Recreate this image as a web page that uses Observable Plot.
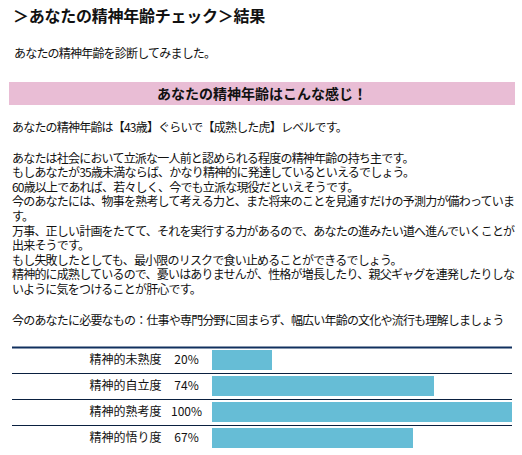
<!DOCTYPE html>
<html lang="ja">
<head>
<meta charset="utf-8">
<script src="https://cdn.jsdelivr.net/npm/d3@7"></script>
<script src="https://cdn.jsdelivr.net/npm/@observablehq/plot@0.6"></script>
<style>
  body { margin: 0; width: 522px; background: #fff; color: #111; font-family: "Noto Sans CJK JP", sans-serif; }
  .title { height: 30px; line-height: 30px; padding-left: 13px; font-size: 16px; font-weight: bold; letter-spacing: -0.25px; }
  .txt { font-size: 12px; letter-spacing: -0.8px; white-space: nowrap; padding-left: 12px; }
  .sub { margin-top: 14.5px; line-height: 15px; padding-left: 14px; }
  .band { margin: 22.5px 7px 0 9px; height: 23px; line-height: 23px; background: #e9bdd5; text-align: center; font-size: 14px; font-weight: bold; }
  .line1 { margin-top: 14.7px; line-height: 14.6px; }
  .para { margin-top: 16.4px; line-height: 14.6px; }
  .need { margin-top: 16px; line-height: 14.6px; }
</style>
</head>
<body>
<div class="title">＞あなたの精神年齢チェック＞結果</div>
<div class="txt sub">あなたの精神年齢を診断してみました。</div>
<div class="band">あなたの精神年齢はこんな感じ！</div>
<div class="txt line1" id="result"></div>
<div class="txt para" id="para"></div>
<div class="txt need" id="need"></div>
<div id="chart"></div>
<script>
// 結果テキスト
const resultLine = "あなたの精神年齢は【43歳】ぐらいで【成熟した虎】レベルです。"
const commentLines = [
  "あなたは社会において立派な一人前と認められる程度の精神年齢の持ち主です。",
  "もしあなたが35歳未満ならば、かなり精神的に発達しているといえるでしょう。",
  "60歳以上であれば、若々しく、今でも立派な現役だといえそうです。",
  "今のあなたには、物事を熟考して考える力と、また将来のことを見通すだけの予測力が備わっていま",
  "す。",
  "万事、正しい計画をたてて、それを実行する力があるので、あなたの進みたい道へ進んでいくことが",
  "出来そうです。",
  "もし失敗したとしても、最小限のリスクで食い止めることができるでしょう。",
  "精神的に成熟しているので、憂いはありませんが、性格が増長したり、親父ギャグを連発したりしな",
  "いように気をつけることが肝心です。"
]
const needLine = "今のあなたに必要なもの：仕事や専門分野に固まらず、幅広い年齢の文化や流行も理解しましょう"

// グラフのデータ
const categories = ["精神的未熟度", "精神的自立度", "精神的熟考度", "精神的悟り度"]
const values = [20, 74, 100, 67]
const valueLabels = ["20%", "74%", "100%", "67%"]

d3.select('#result').text(resultLine)
d3.select('#para').selectAll('div').data(commentLines).join('div').text(d => d)
d3.select('#need').text(needLine)

const data = categories.map((c, i) => ({category: c, value: values[i], label: valueLabels[i]}))

let chart = Plot.plot({
  width: 522,
  height: 128,
  marginTop: 20,
  marginBottom: 4,
  marginLeft: 12,
  marginRight: 10,
  style: {fontFamily: "Noto Sans CJK JP", fontSize: "12px", color: "#111", background: "white"},
  x: {domain: [0, 100], range: [212, 512], axis: null},
  y: {domain: categories, padding: 0, axis: null},
  marks: [
    Plot.barX(data, {x: "value", y: "category", fill: "#66bdd6", insetTop: 3, insetBottom: 3}),
    Plot.ruleY(categories.slice(0, 1), {dy: -13, stroke: "#10305f", strokeWidth: 2}),
    Plot.ruleY(categories.slice(0, -1), {dy: 13, stroke: "#0a2040"}),
    Plot.text(data, {y: "category", text: "category", frameAnchor: "left", textAnchor: "end", dx: 149}),
    Plot.text(data, {y: "category", text: "label", frameAnchor: "left", textAnchor: "middle", dx: 174})
  ]
})
d3.select('#chart').append(() => chart)
</script>
</body>
</html>
